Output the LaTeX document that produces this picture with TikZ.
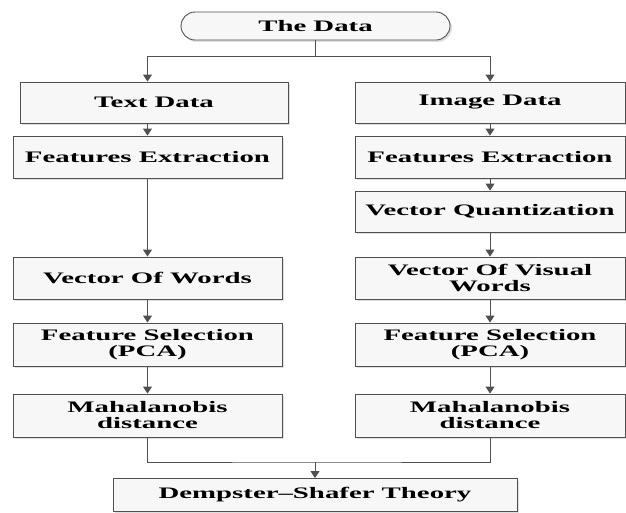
\documentclass[tikz,border=0pt]{standalone}
\usepackage{fontspec}
\setmainfont[FakeStretch=1.8]{Liberation Serif}
\usepackage{xcolor}
\definecolor{edge}{HTML}{505050}
\definecolor{boxfill}{HTML}{F7F7F7}
\usetikzlibrary{arrows.meta, shapes.misc, shadows, positioning}

\begin{document}
\begin{tikzpicture}[x=1pt, y=-1pt,
    font=\fontsize{16}{16}\selectfont\bfseries,
    stage/.style={draw=edge, line width=0.9pt, fill=boxfill, align=center,
      minimum width=269pt, minimum height=42pt, inner sep=0pt,
      drop shadow={shadow xshift=2pt, shadow yshift=-2pt, opacity=0.25}},
    term/.style={stage, rounded rectangle, minimum width=269pt, minimum height=28pt},
    flow/.style={draw=edge, line width=0.9pt, -{Triangle[width=9pt,length=7pt]}},
    link/.style={draw=edge, line width=0.9pt}]
  \useasboundingbox (0,0) rectangle (626,512);

  \node[term] (data) at (315.5,26) {The Data};

  \node[stage, minimum width=268pt, minimum height=41pt] (text) at (154,102.5) {Text Data};
  \node[stage] (tfeat)  at (147.5,157)   {Features Extraction};
  \node[stage] (twords) at (147.5,278)   {Vector Of Words};
  \node[stage, minimum height=43pt] (tsel)  at (147.5,344.5) {Feature Selection\\(PCA)};
  \node[stage, minimum height=43pt] (tmaha) at (147.5,415.5) {Mahalanobis\\distance};

  \node[stage, minimum width=270pt, minimum height=41pt] (image) at (490,102.5) {Image Data};
  \node[stage, minimum width=270pt] (ifeat)  at (490,157)   {Features Extraction};
  \node[stage, minimum width=270pt, minimum height=41pt] (iquant) at (490,211.5) {Vector Quantization};
  \node[stage, minimum width=270pt] (iwords) at (490,278)   {Vector Of Visual\\Words};
  \node[stage, minimum width=270pt, minimum height=43pt] (isel)  at (490,344.5) {Feature Selection\\(PCA)};
  \node[stage, minimum width=270pt, minimum height=43pt] (imaha) at (490,415.5) {Mahalanobis\\distance};

  \node[stage, minimum width=404pt, minimum height=33pt] (ds) at (315,495) {Dempster--Shafer Theory};

  \coordinate (split) at (315.5,56);
  \coordinate (join)  at (315,462);

  \draw[link] (data.south) -- (split);
  \draw[flow] (split) -| (tfeat.north |- text.north);
  \draw[flow] (split) -| (image.north);

  \draw[flow] (tfeat.north |- text.south) -- (tfeat.north);
  \draw[flow] (tfeat) -- (twords);
  \draw[flow] (twords) -- (tsel);
  \draw[flow] (tsel) -- (tmaha);

  \draw[flow] (image) -- (ifeat);
  \draw[flow] (ifeat) -- (iquant);
  \draw[flow] (iquant) -- (iwords);
  \draw[flow] (iwords) -- (isel);
  \draw[flow] (isel) -- (imaha);

  \draw[link] (tmaha.south) |- (join) -| (imaha.south);
  \draw[flow] (join) -- (ds.north);
\end{tikzpicture}
\end{document}
